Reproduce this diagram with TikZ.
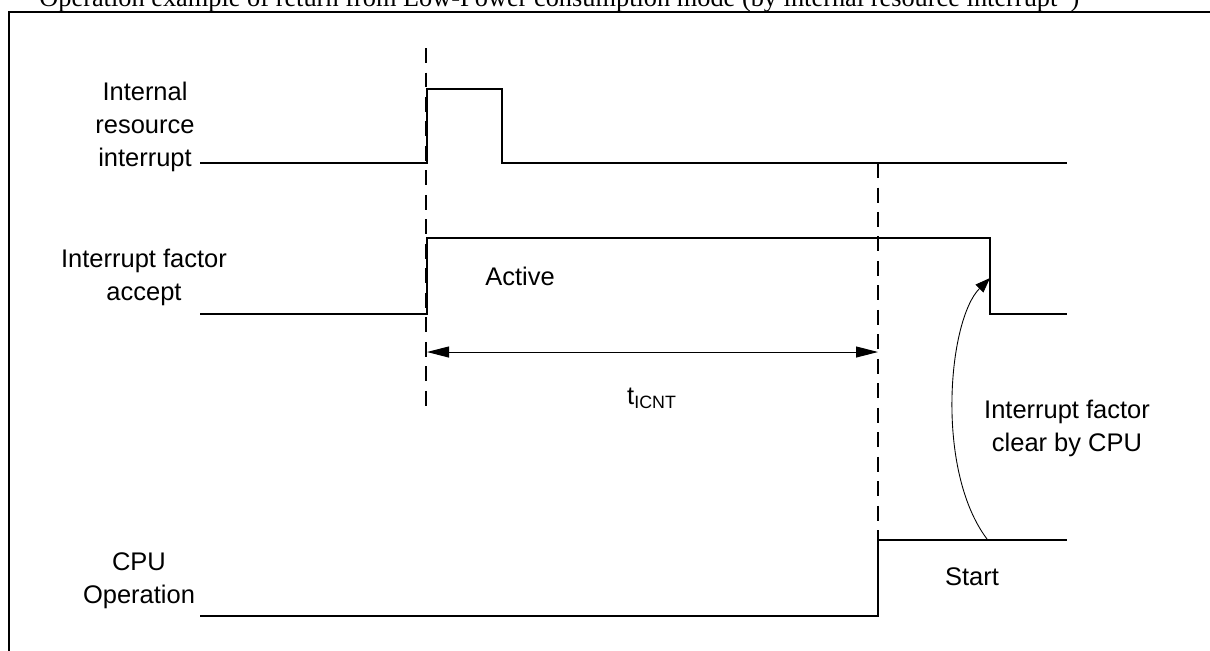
\documentclass[tikz,border=0pt]{standalone}
\usepackage{fontspec}
\setmainfont{Liberation Sans}
\newfontfamily\titleserif{Liberation Serif}
\usetikzlibrary{arrows.meta,positioning,calc}
\tikzset{
  signame/.style={
    align=center, inner sep=0pt,
    font=\fontsize{14.5}{18.7}\selectfont
  },
  note/.style={inner sep=0pt, font=\fontsize{14.5}{18.7}\selectfont},
  heading/.style={inner sep=0pt, font=\titleserif\fontsize{15}{18}\selectfont},
  wave/.style={line width=1.5pt, line join=miter},
  marker/.style={line width=.9pt, dash pattern=on 3mm off 1.9mm},
  boxframe/.style={line width=.9pt},
  spanarrow/.style={{Triangle[length=4.4mm,width=2.2mm]}-{Triangle[length=4.4mm,width=2.2mm]}, line width=.55pt},
  clearflow/.style={-{Triangle[length=3mm,width=2.2mm]}, line width=.5pt}
}

\begin{document}
\begin{tikzpicture}[x=0.02cm,y=-0.02cm]
  \useasboundingbox (0,0) rectangle (1210,650);

  % Caption and frame
  \node[heading,anchor=base west] (title) at (39,6)
    {Operation example of return from Low-Power consumption mode (by internal resource interrupt*)};
  \draw[boxframe] (9,655) -- (9,12) -- (1215,12);

  % Signal names
  \node[signame] (n1) at (145,127) {Internal\\resource\\interrupt};
  \node[signame] (n2) at (144,277) {Interrupt factor\\accept};
  \node[signame] (n3) at (139,581) {CPU\\Operation};

  % Timing markers
  \coordinate (m1top) at (426,48);
  \coordinate (m1bot) at (426,410);
  \coordinate (m2top) at (878,163);
  \coordinate (m2bot) at (878,540);
  \draw[marker] (m1top) -- (m1bot);
  \draw[marker] (m2top) -- (m2bot);

  % Waveforms
  \draw[wave] (200,163) -- (427,163) -- (427,89) -- (502,89)
    -- (502,163) -- (1067,163);
  \draw[wave] (200,314) -- (427,314) -- (427,238) -- (990,238)
    -- (990,314) -- (1067,314);
  \draw[wave] (200,616) -- (878,616) -- (878,540) -- (1067,540);

  % Level labels
  \node[note,anchor=base] (active) at (520,285) {Active};
  \node[note,anchor=base] (start) at (972,585) {Start};

  % Interval between interrupt and CPU start
  \coordinate (s1) at (427,352);
  \coordinate (s2) at (878,352);
  \draw[spanarrow] (s1) -- (s2);
  \node[note] (tcnt) at (652,398) {t\textsubscript{ICNT}};

  % CPU clears the interrupt factor
  \coordinate (cpu) at (987,539);
  \coordinate (clr) at (990,278);
  \draw[clearflow] (cpu) .. controls (935,470) and (948,320) .. (clr);
  \node[signame] (clrtext) at (1067,428) {Interrupt factor\\clear by CPU};
\end{tikzpicture}
\end{document}
